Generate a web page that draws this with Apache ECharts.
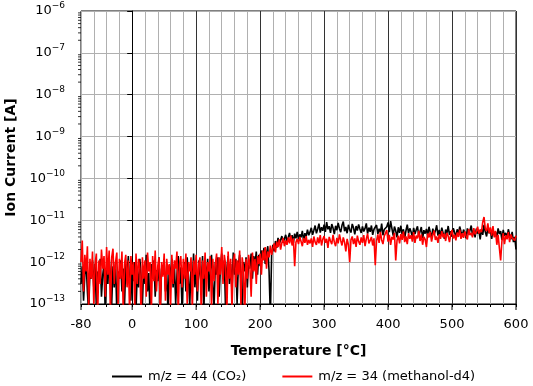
<!DOCTYPE html>
<html>
<head>
<meta charset="utf-8">
<script src="https://cdn.jsdelivr.net/npm/echarts@6/dist/echarts.min.js"></script>
<style>
  html, body { margin: 0; padding: 0; background: #fff; }
  #chart { width: 533px; height: 386px; }
</style>
</head>
<body>
<div id="chart"></div>
<script>
// temperature grid of the readings (deg C)
var tStart = -80, tStep = 2;

// ion currents in pA (1e-12 A), one reading every 2 deg C from -80 to 600
var co2 = [
    0.3, 0.8, 0.12, 0.5, 1.0, 0.2, 0.06, 0.7, 0.4, 1.1,
    0.25, 0.9, 0.08, 0.6, 0.35, 1.2, 0.15, 0.5, 0.9, 0.05,
    0.7, 0.3, 1.3, 0.45, 0.1, 0.8, 0.25, 1.0, 0.06, 0.6,
    0.4, 1.1, 0.2, 0.7, 0.09, 0.9, 0.5, 1.4, 0.3, 0.12,
    0.8, 0.35, 1.0, 0.07, 0.6, 0.25, 1.2, 0.45, 0.1, 0.75,
    0.3, 1.5, 0.2, 0.55, 0.05, 0.9, 0.4, 1.1, 0.15, 0.65,
    0.35, 1.3, 0.08, 0.7, 0.5, 1.0, 0.2, 0.6, 0.06, 0.85,
    0.4, 1.2, 0.25, 0.9, 0.1, 0.5, 1.4, 0.3, 0.75, 0.07,
    0.6, 1.0, 0.2, 1.3, 0.45, 0.09, 0.8, 0.35, 1.6, 0.25,
    0.7, 0.12, 1.1, 0.5, 0.3, 1.4, 0.06, 0.9, 0.4, 1.2,
    0.2, 0.65, 1.5, 0.3, 0.08, 1.0, 0.5, 1.3, 0.15, 0.8,
    1.6, 0.4, 1.1, 0.07, 0.7, 1.4, 0.3, 0.9, 0.2, 1.7,
    0.5, 1.2, 0.1, 0.85, 1.5, 0.35, 0.05, 1.0, 0.6, 1.3,
    0.25, 1.1, 0.7, 1.6, 0.4, 1.4, 0.9, 1.8, 0.5, 1.5,
    0.8, 1.9, 1.2, 2.2, 0.9, 1.6, 2.4, 0.6, 0.05, 1.5,
    2.6, 1.8, 3.2, 2.2, 3.8, 2.7, 3.4, 4.2, 2.9, 3.6,
    4.5, 3.1, 3.9, 5.0, 3.3, 4.4, 2.9, 4.8, 3.7, 5.3,
    3.5, 4.6, 3.9, 5.6, 3.2, 4.9, 4.1, 6.0, 4.4, 5.2,
    6.6, 4.5, 5.8, 7.5, 4.9, 6.2, 8.3, 5.1, 6.8, 5.6,
    7.9, 5.3, 9.0, 6.1, 7.2, 5.0, 8.1, 6.5, 4.7, 7.4,
    5.8, 8.7, 6.3, 5.2, 7.6, 9.3, 5.5, 6.9, 4.9, 7.8,
    6.0, 5.1, 8.2, 6.6, 4.6, 7.3, 5.7, 8.0, 6.2, 5.0,
    7.1, 5.4, 6.4, 8.4, 4.8, 6.7, 5.3, 7.5, 4.5, 6.1,
    5.6, 7.7, 4.7, 6.3, 5.1, 8.3, 4.4, 6.0, 5.5, 7.0,
    8.9, 5.2, 9.6, 6.4, 4.3, 7.1, 5.6, 3.9, 6.8, 5.0,
    7.4, 4.6, 6.1, 3.8, 5.7, 7.9, 4.9, 6.4, 5.3, 4.0,
    6.6, 4.7, 5.9, 7.2, 4.2, 5.4, 6.9, 3.7, 5.8, 4.8,
    6.2, 4.4, 7.0, 5.1, 3.9, 6.3, 4.6, 5.6, 7.6, 4.3,
    5.9, 4.1, 6.7, 5.0, 3.6, 6.0, 4.8, 7.3, 4.5, 5.5,
    4.0, 6.5, 5.2, 3.8, 6.1, 4.7, 7.1, 5.4, 4.2, 6.0,
    5.0, 3.7, 6.4, 4.6, 5.7, 7.5, 4.3, 5.9, 3.9, 6.3,
    4.8, 5.6, 3.5, 6.2, 4.5, 7.8, 5.3, 4.1, 6.6, 4.9,
    5.8, 3.6, 6.0, 4.4, 5.2, 3.9, 6.4, 4.7, 5.5, 3.4,
    5.9, 4.2, 5.0, 3.8, 6.1, 4.5, 3.5, 5.3, 3.0, 4.0,
    2.0
];
var methanol = [
    1.0, 3.3, 0.2, 1.5, 0.6, 2.4, 0.08, 1.2, 0.4, 1.8,
    0.1, 0.9, 1.6, 0.05, 1.1, 0.3, 2.0, 0.7, 1.4, 0.15,
    2.3, 0.5, 1.9, 0.06, 1.3, 2.1, 0.3, 1.0, 1.7, 0.1,
    1.2, 0.4, 1.8, 0.07, 0.9, 1.5, 0.25, 1.1, 0.06, 1.4,
    0.5, 1.0, 0.09, 1.6, 0.3, 1.2, 0.7, 0.05, 1.3, 0.4,
    1.1, 0.15, 1.7, 0.6, 1.0, 0.07, 1.4, 0.35, 1.9, 0.2,
    0.8, 1.3, 0.06, 1.0, 0.45, 1.6, 0.12, 1.2, 0.5, 0.9,
    0.08, 1.5, 0.3, 1.1, 0.7, 1.8, 0.05, 0.9, 1.4, 0.25,
    1.2, 0.4, 1.6, 0.1, 1.0, 0.6, 1.3, 0.07, 1.1, 0.5,
    1.5, 0.2, 0.9, 1.3, 0.06, 1.1, 0.4, 1.7, 0.15, 1.0,
    0.6, 1.4, 0.08, 1.2, 0.35, 0.9, 1.6, 0.1, 1.3, 0.5,
    2.3, 0.3, 1.5, 0.9, 0.06, 1.8, 0.4, 1.2, 0.07, 1.0,
    1.6, 0.25, 1.1, 0.5, 1.9, 0.09, 1.3, 0.7, 0.05, 1.2,
    0.4, 1.5, 0.8, 0.15, 1.7, 0.6, 1.2, 0.3, 1.4, 0.9,
    1.6, 0.5, 1.9, 1.1, 2.3, 0.7, 1.8, 1.3, 2.5, 1.5,
    2.1, 2.8, 1.7, 3.1, 2.3, 3.5, 2.0, 2.9, 3.8, 2.4,
    3.3, 2.6, 3.9, 2.8, 4.3, 2.5, 3.7, 0.8, 3.0, 3.6,
    2.7, 4.0, 3.1, 2.4, 3.8, 2.9, 4.2, 2.6, 3.4, 2.8,
    3.7, 2.3, 4.1, 3.0, 2.6, 3.9, 2.8, 4.4, 2.5, 3.5,
    4.2, 2.9, 3.6, 2.2, 4.0, 3.2, 2.7, 4.5, 3.0, 2.4,
    3.8, 2.8, 4.6, 3.3, 2.5, 3.9, 3.0, 1.8, 3.6, 2.6,
    1.0, 3.4, 4.1, 2.7, 3.7, 2.3, 4.3, 3.1, 2.6, 3.9,
    2.9, 4.4, 2.4, 3.6, 4.8, 2.8, 3.3, 4.0, 2.5, 3.7,
    0.85, 3.2, 4.6, 2.9, 5.3, 3.4, 2.7, 4.2, 3.8, 5.8,
    3.1, 4.5, 2.6, 4.0, 3.5, 5.0, 1.1, 3.3, 4.3, 2.8,
    4.7, 3.4, 5.4, 3.0, 4.1, 2.7, 4.9, 3.6, 4.4, 3.1,
    5.2, 2.9, 4.3, 3.7, 5.6, 3.2, 4.6, 2.6, 4.0, 3.5,
    2.3, 4.8, 3.9, 5.3, 3.1, 4.4, 5.7, 3.4, 4.1, 2.9,
    4.6, 3.6, 5.5, 3.9, 4.8, 3.2, 5.0, 4.2, 3.0, 4.7,
    5.9, 3.7, 4.5, 3.3, 5.1, 4.0, 6.0, 3.6, 4.9, 3.8,
    5.4, 4.2, 3.5, 6.2, 4.4, 5.0, 3.9, 6.5, 4.6, 5.3,
    7.0, 4.8, 6.0, 5.2, 9.0, 12.0, 6.3, 5.5, 8.4, 4.9,
    6.8, 4.3, 7.3, 3.9, 5.6, 2.6, 4.5, 2.2, 1.1, 3.2,
    4.9, 2.7, 4.4, 3.5, 5.2, 3.0, 4.6, 3.8, 4.1, 3.3,
    4.3
];
var PICO = 1e-12;

var xLabels = [-80, 0, 100, 200, 300, 400, 500, 600];
var seriesNames = ['m/z = 44 (CO\u2082)', 'm/z = 34 (methanol-d4)'];
var seriesColors = ['#000000', '#ff0000'];

var FONT = 'DejaVu Sans';

function toPairs(arr) {
    var out = [];
    for (var i = 0; i < arr.length; i++) {
        out.push([tStart + i * tStep, arr[i] * PICO]);
    }
    return out;
}

// log minor tick positions 2..9 x 10^n for every decade
var minorY = [];
for (var e = -13; e < -6; e++) {
    for (var k = 2; k < 10; k++) {
        minorY.push([-80, k * Math.pow(10, e)]);
    }
}
var majorX = [];
for (var j = 0; j < xLabels.length; j++) {
    majorX.push([xLabels[j], 1e-13]);
}

var chart = echarts.init(document.getElementById('chart'), null, { renderer: 'canvas' });

var option = {
    animation: false,
    backgroundColor: '#fff',
    textStyle: { fontFamily: FONT },
    grid: {
        left: 81, right: 17, top: 11, bottom: 82,
        outerBoundsMode: 'none',
        containLabel: false,
        show: true, borderColor: '#000', borderWidth: 1, backgroundColor: 'transparent'
    },
    legend: {
        data: seriesNames,
        left: 107, top: 365,
        icon: 'rect',
        itemWidth: 30, itemHeight: 2,
        itemGap: 36,
        textStyle: { fontFamily: FONT, fontSize: 13, color: '#000', padding: [0, 0, 0, 1] }
    },
    xAxis: {
        type: 'value',
        min: -80, max: 600, interval: 20,
        name: 'Temperature [\u00b0C]',
        nameLocation: 'middle',
        nameGap: 40,
        nameTextStyle: { fontFamily: FONT, fontSize: 14, fontWeight: 'bold', color: '#000' },
        axisLine: { onZero: false, lineStyle: { color: '#000', width: 1 } },
        axisTick: { show: true, length: 3, lineStyle: { color: '#000' } },
        axisLabel: {
            margin: 14,
            fontFamily: FONT, fontSize: 13, color: '#000',
            formatter: function (v) { return xLabels.indexOf(v) >= 0 ? String(v) : ''; }
        },
        splitLine: {
            show: true,
            lineStyle: { color: ['#b0b0b0', '#b0b0b0', '#b0b0b0', '#b0b0b0', '#333333'], width: 1 }
        }
    },
    yAxis: {
        type: 'log',
        logBase: 10,
        min: 1e-13, max: 1e-6,
        name: 'Ion Current [A]',
        nameLocation: 'middle',
        nameGap: 60,
        nameTextStyle: { fontFamily: FONT, fontSize: 14, fontWeight: 'bold', color: '#000' },
        axisLine: { lineStyle: { color: '#000', width: 1 } },
        axisTick: { show: true, length: 5, lineStyle: { color: '#000' } },
        axisLabel: {
            margin: 16,
            formatter: function (v) {
                var ex = Math.round(Math.log10(v));
                return '{b|10}{s|\u2212' + (-ex) + '}';
            },
            rich: {
                b: { fontFamily: FONT, fontSize: 13, color: '#000' },
                s: { fontFamily: FONT, fontSize: 9, color: '#000', padding: [0, 0, 10, 0] }
            }
        },
        splitLine: { show: true, lineStyle: { color: '#b0b0b0', width: 1 } }
    },
    series: [
        {
            name: seriesNames[0],
            type: 'line',
            data: toPairs(co2),
            showSymbol: false,
            symbol: 'none',
            clip: true,
            lineStyle: { color: seriesColors[0], width: 1.6 },
            itemStyle: { color: seriesColors[0] },
            z: 3
        },
        {
            name: seriesNames[1],
            type: 'line',
            data: toPairs(methanol),
            showSymbol: false,
            symbol: 'none',
            clip: true,
            lineStyle: { color: seriesColors[1], width: 1.6 },
            itemStyle: { color: seriesColors[1] },
            z: 4
        },
        {
            // minor log ticks on the y axis
            type: 'custom',
            silent: true,
            clip: false,
            data: minorY,
            renderItem: function (params, api) {
                var p = api.coord([api.value(0), api.value(1)]);
                return {
                    type: 'line',
                    shape: { x1: p[0] - 3, y1: p[1], x2: p[0], y2: p[1] },
                    style: { stroke: '#000', lineWidth: 0.8 }
                };
            },
            z: 5
        },
        {
            // longer major ticks on the x axis
            type: 'custom',
            silent: true,
            clip: false,
            data: majorX,
            renderItem: function (params, api) {
                var p = api.coord([api.value(0), api.value(1)]);
                return {
                    type: 'line',
                    shape: { x1: p[0], y1: p[1], x2: p[0], y2: p[1] + 6 },
                    style: { stroke: '#000', lineWidth: 1 }
                };
            },
            z: 5
        }
    ]
};

chart.setOption(option);
</script>
</body>
</html>
